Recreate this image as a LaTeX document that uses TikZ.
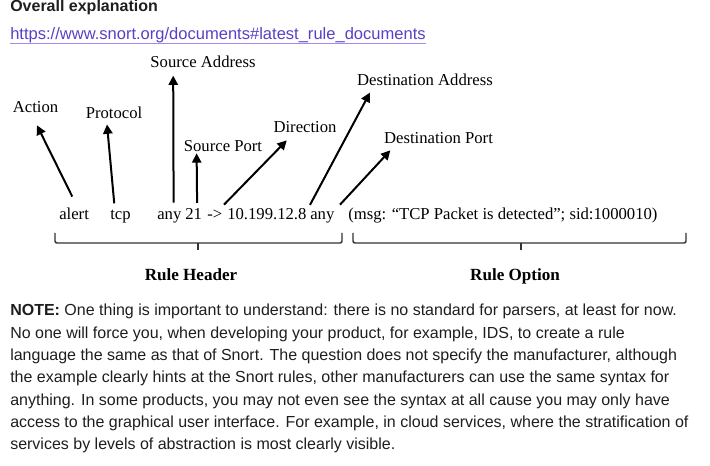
\documentclass[tikz,border=0pt]{standalone}
\usepackage{fontspec}
\setmainfont{Liberation Serif}
\newfontfamily\uifont{Liberation Sans}
\newfontfamily\notefont{Liberation Sans}
\usetikzlibrary{arrows.meta,calc}
\definecolor{linkpurple}{HTML}{5B3FC4}
\definecolor{linkline}{HTML}{A28AF0}
\definecolor{textdark}{HTML}{1E1E1E}
\definecolor{bracegray}{HTML}{333333}
\begin{document}
\begin{tikzpicture}[x=0.75pt,y=-0.75pt,
  word/.style={inner sep=0pt,anchor=base west,font=\fontsize{12.5}{14}\selectfont},
  tag/.style={inner sep=0pt,font=\fontsize{12.5}{14}\selectfont},
  part/.style={inner sep=0pt,anchor=base,font=\fontsize{12.8}{15}\selectfont\bfseries},
  pointer/.style={line width=1.5pt,-{Triangle[length=7pt,width=7pt]}},
  brace/.style={line width=1.1pt,bracegray,rounded corners=1.5pt},
  noteline/.style={inner sep=0pt,anchor=base west,text=textdark,font=\notefont\fontsize{12}{14}\selectfont}]
\useasboundingbox (0,0) rectangle (710,466);
%heading and link
 \node[inner sep=0pt,anchor=base west,text=textdark,font=\uifont\bfseries\fontsize{12}{14}\selectfont] (title) at (10,12) {Overall explanation};
 \node[inner sep=0pt,anchor=base west,text=linkpurple,font=\uifont\fontsize{12.4}{14}\selectfont] (link) at (10,40) {https://www.snort.org/documents\#latest\_rule\_documents};
 \draw[linkline,line width=0.8pt] (link.south west) -- (link.south east); %underline
%rule line
	\node[word] (alert) at (59,220) {alert};
	\node[word] (tcp) at (110,220) {tcp};
	\node[word] (srcany) at (157,220) {any};
	\node[word] (srcport) at (185,220) {21};
	\node[word] (dir) at (207,220) {->};
	\node[word] (dstip) at (227,220) {10.199.12.8};
	\node[word] (dstany) at (310,220) {any};
	\node[word] (opts) at (348,220) {(msg: “TCP Packet is detected”; sid:1000010)};
%labels
	\node[tag] (action) at (35.5,107) {Action};
	\node[tag] (protocol) at (114,113) {Protocol};
	\node[tag] (srcaddr) at (203,62) {Source Address};
	\node[tag] (srcport-l) at (223,146) {Source Port};
	\node[tag] (direction) at (305,127) {Direction};
	\node[tag] (dstaddr) at (425,80) {Destination Address};
	\node[tag] (dstport) at (438.5,138) {Destination Port};
%arrows
	\draw[pointer] ($(alert.north)+(-1.8,-11.6)$) -- ($(action.south)+(1.5,12.5)$); %action
	\draw[pointer] ($(tcp.north)+(-6.2,-7)$) -- ($(protocol.south)+(-7,5.3)$); %protocol
	\draw[pointer] ($(srcany.north east)+(-8,-9.3)$) -- ($(srcaddr.south west)+(23,7.5)$); %source address
	\draw[pointer] ($(srcport.north)+(3.5,-5.7)$) -- ($(srcport-l.south west)+(13,1.5)$); %source port
	\draw[pointer] ($(dstip.north west)+(-3,-4)$) -- ($(direction.south west)+(13.5,7.5)$); %direction
	\draw[pointer] ($(dstany.north west)+(0,-7)$) -- ($(dstaddr.south west)+(13,6.5)$); %destination address
	\draw[pointer] ($(opts.north west)+(-8,-3.5)$) -- ($(dstport.south west)+(6.5,6.5)$); %destination port
%braces
	\draw[brace] (55,233) -- (55,243) -- (342,243) -- (342,233); %header brace
	\draw[brace] (198,243) -- (198,250); %header tip
	\draw[brace] (353,233) -- (353,243) -- (686,243) -- (686,233); %option brace
	\draw[brace] (521,243) -- (521,250); %option tip
	\node[part] (header) at (191,281) {Rule Header};
	\node[part] (option) at (515,281) {Rule Option};
%note
	\node[noteline] (note1) at (10,316) {\textbf{NOTE:} One thing is important to understand: there is no standard for parsers, at least for now.};
	\node[noteline] (note2) at (10,338.3) {No one will force you, when developing your product, for example, IDS, to create a rule};
	\node[noteline] (note3) at (10,360.6) {language the same as that of Snort. The question does not specify the manufacturer, although};
	\node[noteline] (note4) at (10,382.9) {the example clearly hints at the Snort rules, other manufacturers can use the same syntax for};
	\node[noteline] (note5) at (10,405.2) {anything. In some products, you may not even see the syntax at all cause you may only have};
	\node[noteline] (note6) at (10,427.5) {access to the graphical user interface. For example, in cloud services, where the stratification of};
	\node[noteline] (note7) at (10,449.8) {services by levels of abstraction is most clearly visible.};
\end{tikzpicture}
\end{document}
